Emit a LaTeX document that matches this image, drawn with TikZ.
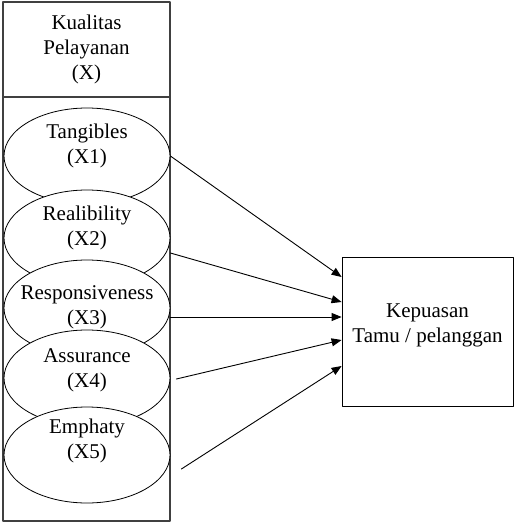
\documentclass[tikz,border=0pt]{standalone}
\usepackage{fontspec}
\setmainfont{Liberation Serif}
\usetikzlibrary{shapes.geometric,arrows.meta}

\begin{document}
\begin{tikzpicture}[x=1pt,y=-1pt,line cap=round,line join=round,>={Triangle[length=10pt,width=8pt]},
  kotak/.style={draw=black!75,line width=1.1pt,inner sep=0pt},
  ell/.style={draw,ellipse,fill=white,minimum width=166pt,minimum height=96pt,line width=0.8pt},
  lbl/.style={align=center,font=\fontsize{21}{25}\selectfont},
  panah/.style={->,line width=0.9pt}]
\useasboundingbox (0,0) rectangle (514,525);
%\draw[help lines] (0,0) grid[step=50] (514,525);

% kotak variabel X
\node[kotak,minimum width=167pt,minimum height=95pt] (kual) at (86.5,49.5) {};
\node[lbl] (kualtxt) at (kual.center) {Kualitas\\Pelayanan\\(X)};
\node[kotak,minimum width=167pt,minimum height=424pt] (dim) at (86.5,309) {};

% dimensi
\node[ell] (x1) at (87,156) {};
\node[lbl] (t1) at ([yshift=10pt]x1.center) {Tangibles\\(X1)};
\node[ell] (x2) at (87,238) {};
\node[lbl] (t2) at ([yshift=10pt]x2.center) {Realibility\\(X2)};
\node[ell] (x3) at (87,308) {};
\node[lbl] (t3) at ([yshift=1pt]x3.center) {Responsiveness\\(X3)};
\node[ell] (x4) at (87,378) {};
\node[lbl] (t4) at ([yshift=8pt]x4.center) {Assurance\\(X4)};
\node[ell] (x5) at (87,455) {};
\node[lbl] (t5) at ([yshift=14pt]x5.center) {Emphaty\\(X5)};

% variabel Y
\node[draw,line width=0.8pt,minimum width=171pt,minimum height=149pt,inner sep=0pt] (kep) at (427.5,331.5) {};
\node[lbl] (keptxt) at ([yshift=6pt]kep.center) {Kepuasan\\Tamu / pelanggan};

\draw[panah] (x1.east) -- ([yshift=54.5pt]kep.west);
\draw[panah] ([yshift=-15pt]x2.east) -- ([yshift=29.5pt]kep.west);
\draw[panah] ([yshift=-9pt]x3.east) -- ([yshift=14.5pt]kep.west);
\draw[panah] ([xshift=6pt,yshift=-1pt]x4.east) -- ([yshift=-8.5pt]kep.west);
\draw[panah] ([xshift=11pt,yshift=-14pt]x5.east) -- ([yshift=-34.5pt]kep.west);
\end{tikzpicture}
\end{document}
